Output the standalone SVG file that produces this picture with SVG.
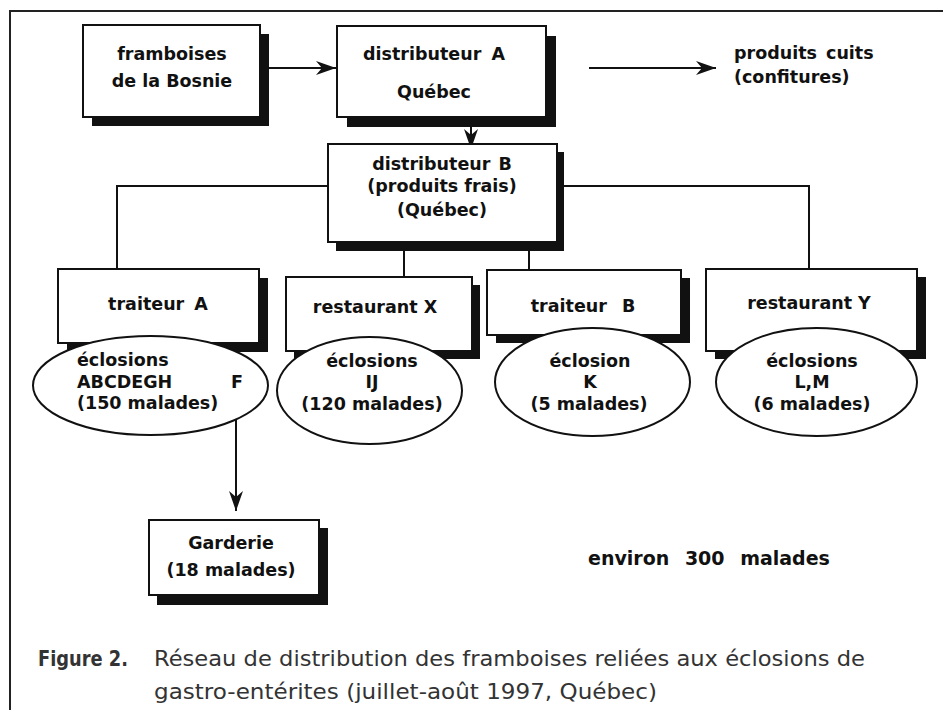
<svg xmlns="http://www.w3.org/2000/svg" width="943" height="710" viewBox="0 0 943 710">
<style>
.box{fill:#fff;stroke:#111;stroke-width:2}
.sh{fill:#111}
.ell{fill:#fff;stroke:#111;stroke-width:2}
.t{font-family:"DejaVu Sans","Liberation Sans",sans-serif;font-weight:bold;font-size:17.5px;fill:#111}
.c{text-anchor:middle}
.ln{fill:none;stroke:#111;stroke-width:2}
.cap{font-family:"DejaVu Sans","Liberation Sans",sans-serif;font-size:21px;fill:#333}
</style>
<defs>
<marker id="ah" markerUnits="userSpaceOnUse" markerWidth="20" markerHeight="14" refX="20" refY="7" orient="auto">
<path d="M0,0 L20,7 L0,14 L6,7 z" fill="#111"/>
</marker>
</defs>
<rect width="943" height="710" fill="#fff"/>
<path d="M10,710 V11 H943" fill="none" stroke="#222" stroke-width="2"/>

<g id="connectors">
<line class="ln" x1="268" y1="68" x2="336" y2="68" marker-end="url(#ah)"/>
<line class="ln" x1="471" y1="127" x2="471" y2="149" marker-end="url(#ah)"/>
<line class="ln" x1="589" y1="68" x2="716" y2="68" marker-end="url(#ah)"/>
<polyline class="ln" points="328,186 117,186 117,269"/>
<polyline class="ln" points="564,186 809,186 809,269"/>
<line class="ln" x1="404" y1="251" x2="404" y2="277"/>
<line class="ln" x1="529" y1="251" x2="529" y2="270"/>
<line class="ln" x1="236" y1="403" x2="236" y2="511" marker-end="url(#ah)"/>
</g>

<g id="framboises">
<rect class="sh" x="92" y="34" width="177" height="92"/>
<rect class="box" x="83" y="25" width="177" height="92"/>
<text class="t c" x="172" y="60">framboises</text>
<text class="t c" x="172" y="87">de la Bosnie</text>
</g>

<g id="distributeurA">
<rect class="sh" x="347" y="36" width="209" height="91"/>
<rect class="box" x="337" y="26" width="209" height="91"/>
<text class="t c" x="434" y="60" word-spacing="4">distributeur A</text>
<text class="t c" x="434" y="98">Québec</text>
</g>

<g id="produits-cuits">
<text class="t" x="734" y="59" word-spacing="3">produits cuits</text>
<text class="t" x="734" y="83">(confitures)</text>
</g>

<g id="distributeurB">
<rect class="sh" x="336" y="152" width="228" height="99"/>
<rect class="box" x="328" y="144" width="229" height="98"/>
<text class="t c" x="442" y="170" word-spacing="2">distributeur B</text>
<text class="t c" x="442" y="192">(produits frais)</text>
<text class="t c" x="442" y="216">(Québec)</text>
</g>

<g id="traiteurA">
<rect class="sh" x="67" y="278" width="201" height="74"/>
<rect class="box" x="58" y="269" width="201" height="74"/>
<ellipse class="ell" cx="150.5" cy="385.5" rx="117.5" ry="49.5"/>
<text class="t c" x="158" y="310" word-spacing="4">traiteur A</text>
<text class="t" x="77" y="366">éclosions</text>
<text class="t" x="77" y="388">ABCDEGH</text>
<text class="t" x="231" y="388">F</text>
<text class="t" x="77" y="409">(150 malades)</text>
</g>

<g id="restaurantX">
<rect class="sh" x="294" y="285" width="186" height="74"/>
<rect class="box" x="286" y="277" width="186" height="74"/>
<ellipse class="ell" cx="369.5" cy="390.5" rx="92.5" ry="53.5"/>
<text class="t c" x="375" y="313">restaurant X</text>
<text class="t c" x="372" y="367">éclosions</text>
<text class="t c" x="372" y="388">IJ</text>
<text class="t c" x="372" y="410">(120 malades)</text>
</g>

<g id="traiteurB">
<rect class="sh" x="496" y="278" width="194" height="65"/>
<rect class="box" x="487" y="270" width="194" height="65"/>
<ellipse class="ell" cx="592.5" cy="382" rx="97.5" ry="54"/>
<text class="t c" x="583" y="312" word-spacing="9">traiteur B</text>
<text class="t c" x="590" y="367">éclosion</text>
<text class="t c" x="590" y="388">K</text>
<text class="t c" x="589" y="410">(5 malades)</text>
</g>

<g id="restaurantY">
<rect class="sh" x="715" y="277" width="211" height="82"/>
<rect class="box" x="706" y="269" width="211" height="82"/>
<ellipse class="ell" cx="816.5" cy="382" rx="100.5" ry="54"/>
<text class="t c" x="809" y="309">restaurant Y</text>
<text class="t c" x="812" y="367">éclosions</text>
<text class="t c" x="812" y="388">L,M</text>
<text class="t c" x="812" y="410">(6 malades)</text>
</g>

<g id="garderie">
<rect class="sh" x="157" y="528" width="171" height="77"/>
<rect class="box" x="149" y="520" width="170" height="75"/>
<text class="t c" x="231" y="549">Garderie</text>
<text class="t c" x="231" y="576">(18 malades)</text>
</g>

<g id="total">
<text class="t" x="588" y="565" font-size="19" style="font-size:19px" word-spacing="9">environ 300 malades</text>
</g>

<g id="caption">
<text class="cap" x="38" y="666" font-weight="bold" textLength="90" lengthAdjust="spacingAndGlyphs">Figure 2.</text>
<text class="cap" x="154" y="666" textLength="711" lengthAdjust="spacingAndGlyphs">Réseau de distribution des framboises reliées aux éclosions de</text>
<text class="cap" x="154" y="699" textLength="503" lengthAdjust="spacingAndGlyphs">gastro-entérites (juillet-août 1997, Québec)</text>
</g>
</svg>
